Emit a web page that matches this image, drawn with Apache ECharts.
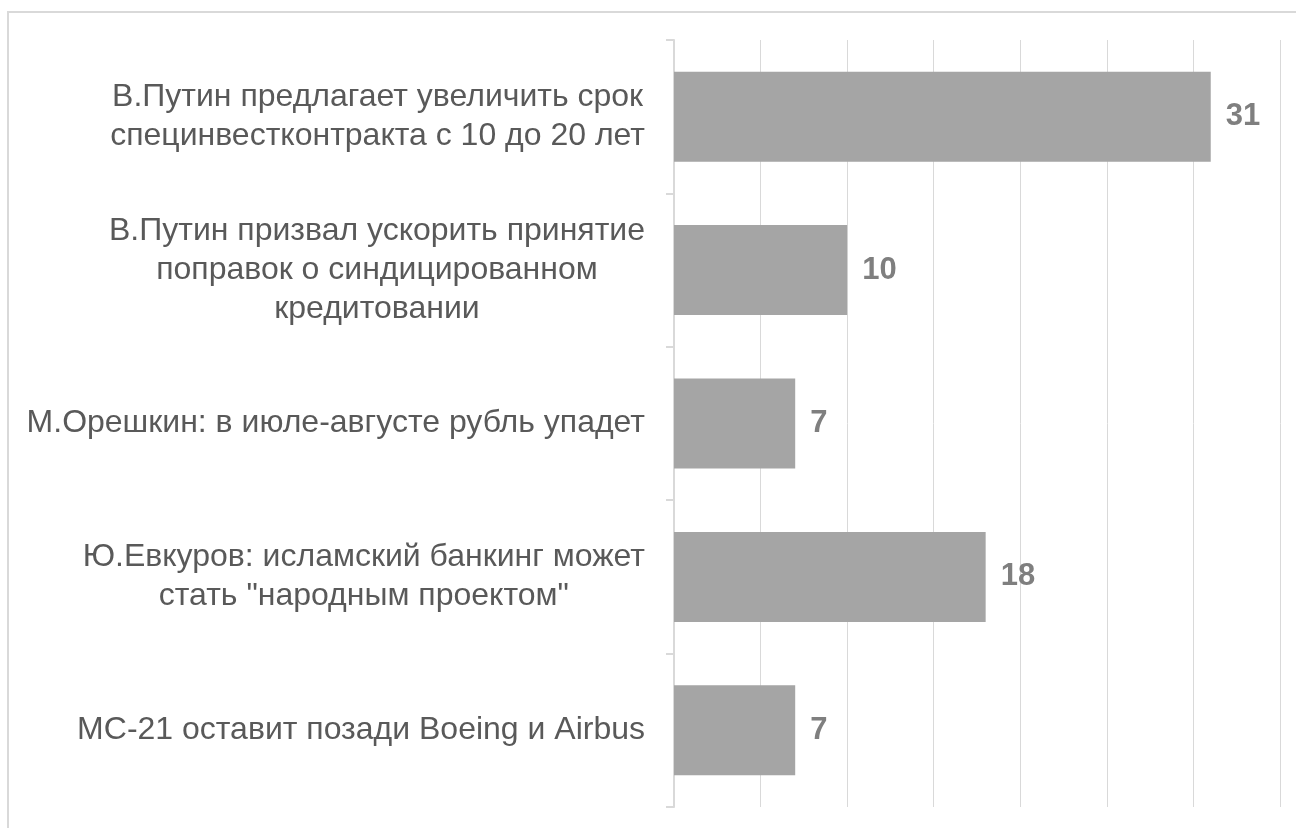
<!DOCTYPE html>
<html>
<head>
<meta charset="utf-8">
<script src="https://cdn.jsdelivr.net/npm/echarts@6/dist/echarts.min.js"></script>
<style>
    html, body {margin: 0; padding: 0; background: #fff;}
    #frame {position: absolute; left: 7px; top: 11px; width: 1300px; height: 830px; border: 2px solid #d9d9d9; box-sizing: border-box;}
    #chart {position: absolute; left: 0; top: 0; width: 1296px; height: 828px;}
</style>
</head>
<body>
<div id="frame"></div>
<div id="chart"></div>
<script>
    // новости (сверху вниз)
    const categories = [
        'В.Путин предлагает увеличить срок\nспецинвестконтракта с 10 до 20 лет',
        'В.Путин призвал ускорить принятие\nпоправок о синдицированном\nкредитовании',
        'М.Орешкин: в июле-августе рубль упадет',
        'Ю.Евкуров: исламский банкинг может\nстать "народным проектом"',
        'МС-21 оставит позади Boeing и Airbus'
    ];
    const values = [31, 10, 7, 18, 7];
    const axisMax = 35;
    const axisStep = 5;

    const chart = echarts.init(document.getElementById('chart'));

    const option = {
        animation: false,
        grid: {left: 674, right: 16, top: 40, bottom: 21, containLabel: false},
        xAxis: {
            type: 'value',
            min: 0,
            max: axisMax,
            interval: axisStep,
            axisLine: {show: false},
            axisTick: {show: false},
            axisLabel: {show: false},
            splitLine: {show: true, lineStyle: {color: '#d9d9d9', width: 1}}
        },
        yAxis: {
            type: 'category',
            data: categories,
            inverse: true,
            axisLine: {show: true, lineStyle: {color: '#d9d9d9', width: 2}},
            axisTick: {show: true, length: 8, lineStyle: {color: '#d9d9d9', width: 2}},
            axisLabel: {
                margin: 29,
                formatter: (v) => v.split('\n').map(s => '{c|' + s + '}').join('\n'),
                rich: {
                    c: {
                        align: 'center',
                        fontSize: 32,
                        lineHeight: 39,
                        color: '#595959',
                        fontFamily: 'Liberation Sans, Arial, sans-serif'
                    }
                }
            }
        },
        series: [{
            type: 'bar',
            data: values,
            barWidth: 90,
            itemStyle: {color: '#a5a5a5'},
            label: {
                show: true,
                position: 'right',
                distance: 15,
                fontSize: 31,
                fontWeight: 'bold',
                color: '#7f7f7f',
                fontFamily: 'Liberation Sans, Arial, sans-serif'
            }
        }]
    };

    chart.setOption(option);
</script>
</body>
</html>
